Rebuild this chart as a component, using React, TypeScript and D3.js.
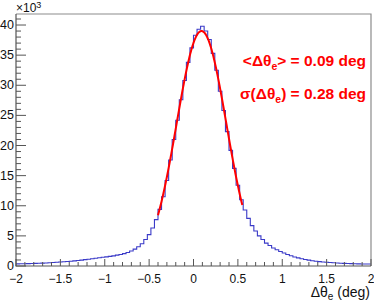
import React, { useEffect, useRef } from "react";
import * as d3 from "d3";

// histogram: 100 bins from -2 to 2 deg, counts in units of 10^3
const binLow = -2;
const binHigh = 2;
const counts = [
  0.36, 0.37, 0.38, 0.4, 0.42, 0.44, 0.46, 0.48, 0.51, 0.54,
  0.58, 0.62, 0.66, 0.7, 0.74, 0.79, 0.85, 0.91, 0.98, 1.05,
  1.12, 1.2, 1.28, 1.37, 1.45, 1.52, 1.6, 1.68, 1.8, 1.9,
  2.05, 2.25, 2.5, 2.8, 3.2, 3.7, 4.4, 5.2, 6.3, 7.7,
  9.4, 11.5, 14.2, 17.6, 21.0, 24.2, 27.6, 30.8, 33.8, 36.2,
  38.3, 39.3, 39.8, 39.0, 37.6, 35.3, 32.5, 29.0, 25.8, 22.3,
  19.2, 16.2, 13.4, 11.0, 9.3, 7.9, 6.7, 5.8, 5.0, 4.4,
  3.8, 3.4, 3.0, 2.7, 2.4, 2.15, 1.9, 1.7, 1.5, 1.35,
  1.2, 1.08, 0.97, 0.88, 0.8, 0.73, 0.67, 0.62, 0.57, 0.53,
  0.49, 0.46, 0.43, 0.41, 0.39, 0.37, 0.35, 0.34, 0.33, 0.32,
];

// gaussian fit result
const fitAmp = 39.0;
const fitMean = 0.09;
const fitSigma = 0.28;
const fitRange = [-0.4, 0.55];

const xTicks = [-2, -1.5, -1, -0.5, 0, 0.5, 1, 1.5, 2];
const yTicks = [0, 5, 10, 15, 20, 25, 30, 35, 40];

const App: React.FC = () => {
  const svgRef = useRef<SVGSVGElement | null>(null);

  useEffect(() => {
    const width = 374;
    const height = 304;
    const margin = { top: 14, right: 3, bottom: 38, left: 16 };
    const font = "'Liberation Sans', Arial, Helvetica, sans-serif";

    const svg = d3.select(svgRef.current).attr("width", width).attr("height", height);
    svg.selectAll("*").remove();

    const xScale = d3
      .scaleLinear()
      .domain([binLow, binHigh])
      .range([margin.left, width - margin.right]);
    const yScale = d3
      .scaleLinear()
      .domain([0, 41.83])
      .range([height - margin.bottom, margin.top]);

    const x0 = margin.left;
    const x1 = width - margin.right;
    const y0 = margin.top;
    const y1 = height - margin.bottom;

    svg.append("rect").attr("width", width).attr("height", height).attr("fill", "white");

    // histogram outline
    const bw = (binHigh - binLow) / counts.length;
    const pts: [number, number][] = [];
    counts.forEach((c, i) => {
      pts.push([binLow + i * bw, c]);
      pts.push([binLow + (i + 1) * bw, c]);
    });
    svg
      .append("path")
      .attr(
        "d",
        d3
          .line<[number, number]>()
          .x((d) => xScale(d[0]))
          .y((d) => yScale(d[1]))(pts)
      )
      .attr("fill", "none")
      .attr("stroke", "#3a3ac8")
      .attr("stroke-width", 1.1);

    // fit curve
    const fx = d3.range(fitRange[0], fitRange[1] + 0.0001, 0.005);
    svg
      .append("path")
      .attr(
        "d",
        d3
          .line<number>()
          .x((d) => xScale(d))
          .y((d) => yScale(fitAmp * Math.exp(-0.5 * ((d - fitMean) / fitSigma) ** 2)))
          .curve(d3.curveBasis)(fx)
      )
      .attr("fill", "none")
      .attr("stroke", "#ff0000")
      .attr("stroke-width", 2);

    // frame
    svg
      .append("path")
      .attr("d", `M${x0},${y0}H${x1}V${y1}`)
      .attr("fill", "none")
      .attr("stroke", "#8c8c8c")
      .attr("stroke-width", 1.2);

    // axes
    const axisColor = "#555";
    svg
      .append("path")
      .attr("d", `M${x0},${y0}V${y1}H${x1}`)
      .attr("fill", "none")
      .attr("stroke", axisColor)
      .attr("stroke-width", 1.2);

    const g = svg.append("g").attr("stroke", axisColor).attr("stroke-width", 1);
    d3.range(0, 42, 1).forEach((v) => {
      const major = v % 5 === 0;
      g.append("line")
        .attr("x1", x0)
        .attr("x2", x0 + (major ? 10 : 5))
        .attr("y1", yScale(v))
        .attr("y2", yScale(v));
    });
    d3.range(-20, 21, 1).forEach((k) => {
      const major = k % 5 === 0;
      const xv = xScale(k / 10);
      g.append("line")
        .attr("x1", xv)
        .attr("x2", xv)
        .attr("y1", y1)
        .attr("y2", y1 - (major ? 7 : 4));
    });

    svg
      .append("g")
      .selectAll("text")
      .data(yTicks)
      .enter()
      .append("text")
      .attr("x", x0 - 2)
      .attr("y", (d) => yScale(d) + 4)
      .attr("text-anchor", "end")
      .style("font-family", font)
      .style("font-size", "12.5px")
      .style("fill", "#111")
      .text((d) => d);

    svg
      .append("g")
      .selectAll("text")
      .data(xTicks)
      .enter()
      .append("text")
      .attr("x", (d) => xScale(d))
      .attr("y", y1 + 17)
      .attr("text-anchor", "middle")
      .style("font-family", font)
      .style("font-size", "12px")
      .style("fill", "#111")
      .text((d) => (d < 0 ? "\u2212" + Math.abs(d) : String(d)));

    // exponent label
    const ex = svg
      .append("text")
      .attr("x", x0)
      .attr("y", 12)
      .style("font-family", font)
      .style("font-size", "12px")
      .style("fill", "#111");
    ex.append("tspan").text("\u00d710");
    ex.append("tspan").attr("dy", -4).style("font-size", "9px").text("3");

    // x axis title
    const xt = svg
      .append("text")
      .attr("x", x1 - 1)
      .attr("y", 297)
      .attr("text-anchor", "end")
      .style("font-family", font)
      .style("font-size", "14px")
      .style("fill", "#111");
    xt.append("tspan").text("\u0394\u03b8");
    xt.append("tspan").attr("dy", 3).style("font-size", "10px").text("e");
    xt.append("tspan").attr("dy", -3).text(" (deg)");

    // fit results
    const lines = [
      { y: 66, pre: "<\u0394\u03b8", post: "> = 0.09 deg" },
      { y: 99, pre: "\u03c3(\u0394\u03b8", post: ") = 0.28 deg" },
    ];
    lines.forEach((l) => {
      const t = svg
        .append("text")
        .attr("x", 366)
        .attr("y", l.y)
        .attr("text-anchor", "end")
        .style("font-family", font)
        .style("font-size", "15.5px")
        .style("font-weight", "bold")
        .style("fill", "#ff0000");
      t.append("tspan").text(l.pre);
      t.append("tspan").attr("dy", 4).style("font-size", "10.5px").text("e");
      t.append("tspan").attr("dy", -4).text(l.post);
    });
  }, []);

  return <svg ref={svgRef} style={{ position: "absolute", left: 0, top: 0 }}></svg>;
};

export default App;
